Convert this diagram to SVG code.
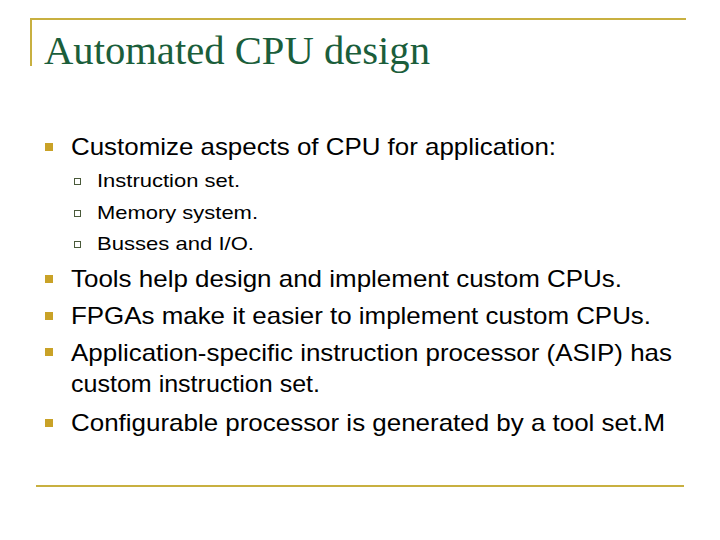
<svg xmlns="http://www.w3.org/2000/svg" width="720" height="540" viewBox="0 0 720 540">
<style>
.t{font-family:"Liberation Serif",serif;font-size:40px;fill:#1b5e3b}
.b{font-family:"Liberation Sans",sans-serif;font-size:24px;fill:#000}
.s{font-family:"Liberation Sans",sans-serif;font-size:19px;fill:#000}
.sq{fill:#c9a227}
.hq{fill:#fff;stroke:#4a5a3a;stroke-width:1}
.ln{stroke:#c8b040;stroke-width:2;fill:none}
</style>
<rect width="720" height="540" fill="#fff"/>
<g id="frame">
<path class="ln" d="M31 66 V19 H686"/>
<path class="ln" d="M36 486 H684"/>
</g>
<g id="title"><text class="t" x="44" y="64" textLength="386" lengthAdjust="spacingAndGlyphs">Automated CPU design</text></g>
<g id="bullets">
<rect class="sq" x="45" y="143" width="8" height="8"/>
<text class="b" x="71" y="155" textLength="485" lengthAdjust="spacingAndGlyphs">Customize aspects of CPU for application:</text>
<rect class="hq" x="74.5" y="178.5" width="6" height="6"/>
<text class="s" x="97" y="187" textLength="143" lengthAdjust="spacingAndGlyphs">Instruction set.</text>
<rect class="hq" x="74.5" y="210.5" width="6" height="6"/>
<text class="s" x="97" y="219" textLength="161" lengthAdjust="spacingAndGlyphs">Memory system.</text>
<rect class="hq" x="74.5" y="241.5" width="6" height="6"/>
<text class="s" x="97" y="250" textLength="157" lengthAdjust="spacingAndGlyphs">Busses and I/O.</text>
<rect class="sq" x="45" y="275" width="8" height="8"/>
<text class="b" x="71" y="287" textLength="551" lengthAdjust="spacingAndGlyphs">Tools help design and implement custom CPUs.</text>
<rect class="sq" x="45" y="312" width="8" height="8"/>
<text class="b" x="71" y="324" textLength="580" lengthAdjust="spacingAndGlyphs">FPGAs make it easier to implement custom CPUs.</text>
<rect class="sq" x="45" y="348" width="8" height="8"/>
<text class="b" x="71" y="361" textLength="601" lengthAdjust="spacingAndGlyphs">Application-specific instruction processor (ASIP) has</text>
<text class="b" x="71" y="392" textLength="249" lengthAdjust="spacingAndGlyphs">custom instruction set.</text>
<rect class="sq" x="45" y="419" width="8" height="8"/>
<text class="b" x="71" y="431" textLength="594" lengthAdjust="spacingAndGlyphs">Configurable processor is generated by a tool set.M</text>
</g>
</svg>
